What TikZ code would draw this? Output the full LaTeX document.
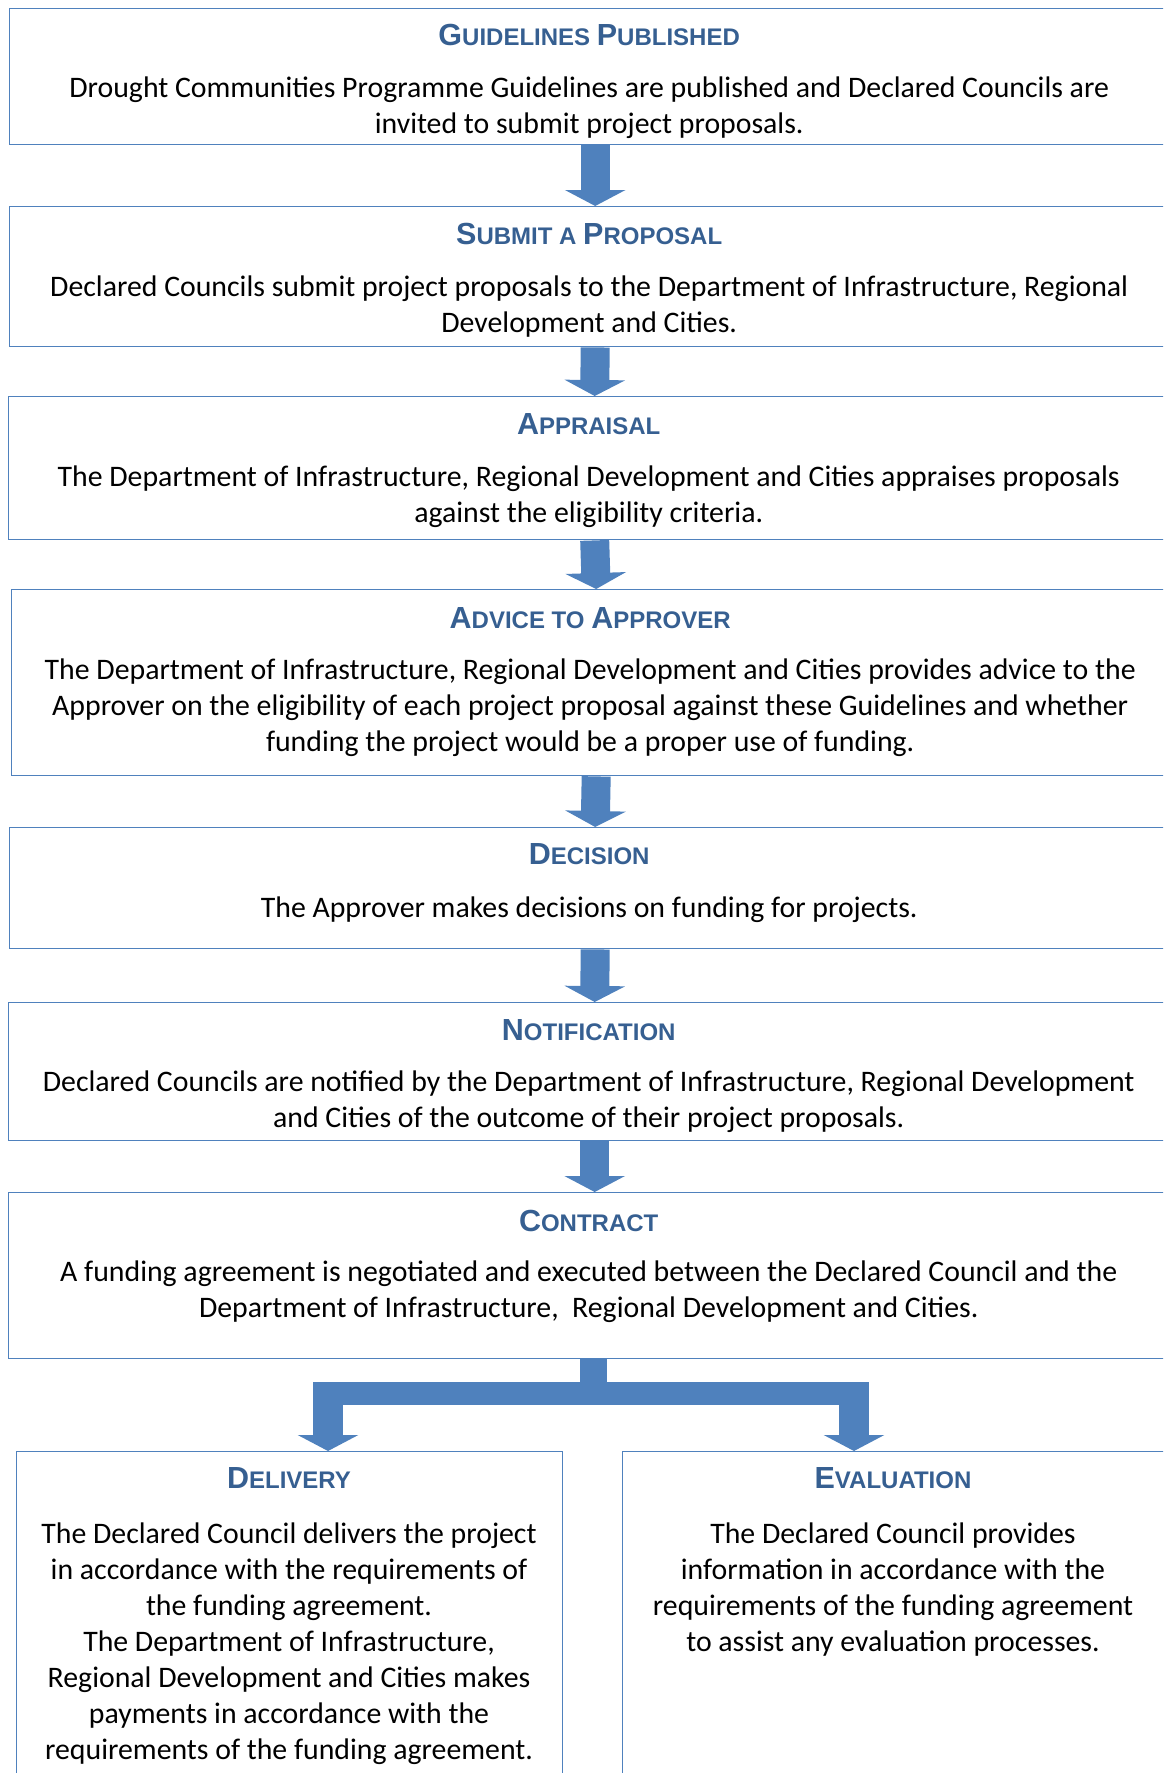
\documentclass[tikz,border=0pt]{standalone}
\usepackage{fontspec}
\setmainfont{Carlito}
\newfontfamily\titlefont{Liberation Sans}
\usepackage{tikz}
\usetikzlibrary{arrows.meta}

\definecolor{stageblue}{HTML}{4F81BD}
\definecolor{titleblue}{HTML}{365F91}
\newcommand\capfirst[1]{{\fontsize{30.5}{32}\selectfont #1}}

\tikzset{
  stagebox/.style={draw=stageblue, line width=1.4pt, anchor=north west, inner sep=0pt},
  stagetitle/.style={anchor=base, text=titleblue, font=\titlefont\bfseries\fontsize{24}{32}\selectfont},
  stagetext/.style={anchor=base, align=center, font=\fontsize{29.8}{36}\selectfont},
  flowarrow/.style={draw=stageblue, line width=29pt, -{Triangle[width=60pt,length=16pt]}},
}

\begin{document}
\begin{tikzpicture}[x=1pt,y=-1pt]
  \useasboundingbox (0,0) rectangle (1163,1773);
  \clip (0,0) rectangle (1163,1773);

  % the stage boxes
  \node[stagebox, minimum width=1159pt, minimum height=136pt] (guide) at (9,8) {};
  \node[stagebox, minimum width=1159pt, minimum height=140pt] (submit) at (9,206) {};
  \node[stagebox, minimum width=1160pt, minimum height=143pt] (appraise) at (8,396) {};
  \node[stagebox, minimum width=1157pt, minimum height=186pt] (advice) at (11,589) {};
  \node[stagebox, minimum width=1159pt, minimum height=121pt] (decide) at (9,827) {};
  \node[stagebox, minimum width=1160pt, minimum height=138pt] (notify) at (8,1002) {};
  \node[stagebox, minimum width=1160pt, minimum height=166pt] (contract) at (8,1192) {};
  \node[stagebox, minimum width=546pt, minimum height=360pt] (deliver) at (16,1451) {};
  \node[stagebox, minimum width=542pt, minimum height=360pt] (evaluate) at (622,1451) {};

  % titles and texts (the base of a text is its last line)
  \node[stagetitle] (guideT) at ([yshift=-37pt]guide.north) {\capfirst{G}UIDELINES \capfirst{P}UBLISHED};
  \node[stagetext] (guideX) at ([yshift=-125pt]guide.north) {Drought Communities Programme Guidelines are published and Declared Councils are\\ invited to submit project proposals.};

  \node[stagetitle] (submitT) at ([yshift=-38pt]submit.north) {\capfirst{S}UBMIT A \capfirst{P}ROPOSAL};
  \node[stagetext] (submitX) at ([yshift=-126pt]submit.north) {Declared Councils submit project proposals to the Department of Infrastructure, Regional\\ Development and Cities.};

  \node[stagetitle] (appraiseT) at ([yshift=-38pt]appraise.north) {\capfirst{A}PPRAISAL};
  \node[stagetext] (appraiseX) at ([yshift=-126pt]appraise.north) {The Department of Infrastructure, Regional Development and Cities appraises proposals\\ against the eligibility criteria.};

  \node[stagetitle] (adviceT) at ([yshift=-39pt]advice.north) {\capfirst{A}DVICE TO \capfirst{A}PPROVER};
  \node[stagetext] (adviceX) at ([yshift=-162pt]advice.north) {The Department of Infrastructure, Regional Development and Cities provides advice to the\\ Approver on the eligibility of each project proposal against these Guidelines and whether\\ funding the project would be a proper use of funding.};

  \node[stagetitle] (decideT) at ([yshift=-37pt]decide.north) {\capfirst{D}ECISION};
  \node[stagetext] (decideX) at ([yshift=-90pt]decide.north) {The Approver makes decisions on funding for projects.};

  \node[stagetitle] (notifyT) at ([yshift=-38pt]notify.north) {\capfirst{N}OTIFICATION};
  \node[stagetext] (notifyX) at ([yshift=-125pt]notify.north) {Declared Councils are notified by the Department of Infrastructure, Regional Development\\ and Cities of the outcome of their project proposals.};

  \node[stagetitle] (contractT) at ([yshift=-39pt]contract.north) {\capfirst{C}ONTRACT};
  \node[stagetext] (contractX) at ([yshift=-125pt]contract.north) {A funding agreement is negotiated and executed between the Declared Council and the\\ Department of Infrastructure,~ Regional Development and Cities.};

  \node[stagetitle] (deliverT) at (289,1488) {\capfirst{D}ELIVERY};
  \node[stagetext] (deliverX) at (289,1759) {The Declared Council delivers the project\\ in accordance with the requirements of\\ the funding agreement.\\ The Department of Infrastructure,\\ Regional Development and Cities makes\\ payments in accordance with the\\ requirements of the funding agreement.};

  \node[stagetitle] (evaluateT) at (893,1488) {\capfirst{E}VALUATION};
  \node[stagetext] (evaluateX) at (893,1651) {The Declared Council provides\\ information in accordance with the\\ requirements of the funding agreement\\ to assist any evaluation processes.};

  % block arrows
  \draw[flowarrow] ([xshift=6pt]guide.south) -- ([xshift=6pt]submit.north);
  \draw[flowarrow] ([xshift=6pt]submit.south) -- ([xshift=6pt]appraise.north);
  \draw[flowarrow] ([xshift=6pt]appraise.south) -- ([xshift=6pt]advice.north);
  \draw[flowarrow] ([xshift=6pt]advice.south) -- ([xshift=6pt]decide.north);
  \draw[flowarrow] ([xshift=6pt]decide.south) -- ([xshift=6pt]notify.north);
  \draw[flowarrow] ([xshift=6pt]notify.south) -- ([xshift=6pt]contract.north);

  % the fork below the contract
  \coordinate (forkL) at (328,1382);
  \coordinate (forkR) at (854,1382);
  \draw[stageblue, line width=27pt] ([xshift=5pt]contract.south) -- ([xshift=5pt]contract.south |- 0,1394);
  \fill[stageblue] (313,1382) rectangle (869,1405);
  \draw[flowarrow, line width=30pt] (forkL) -- (forkL |- deliver.north);
  \draw[flowarrow, line width=30pt] (forkR) -- (forkR |- evaluate.north);
\end{tikzpicture}
\end{document}
